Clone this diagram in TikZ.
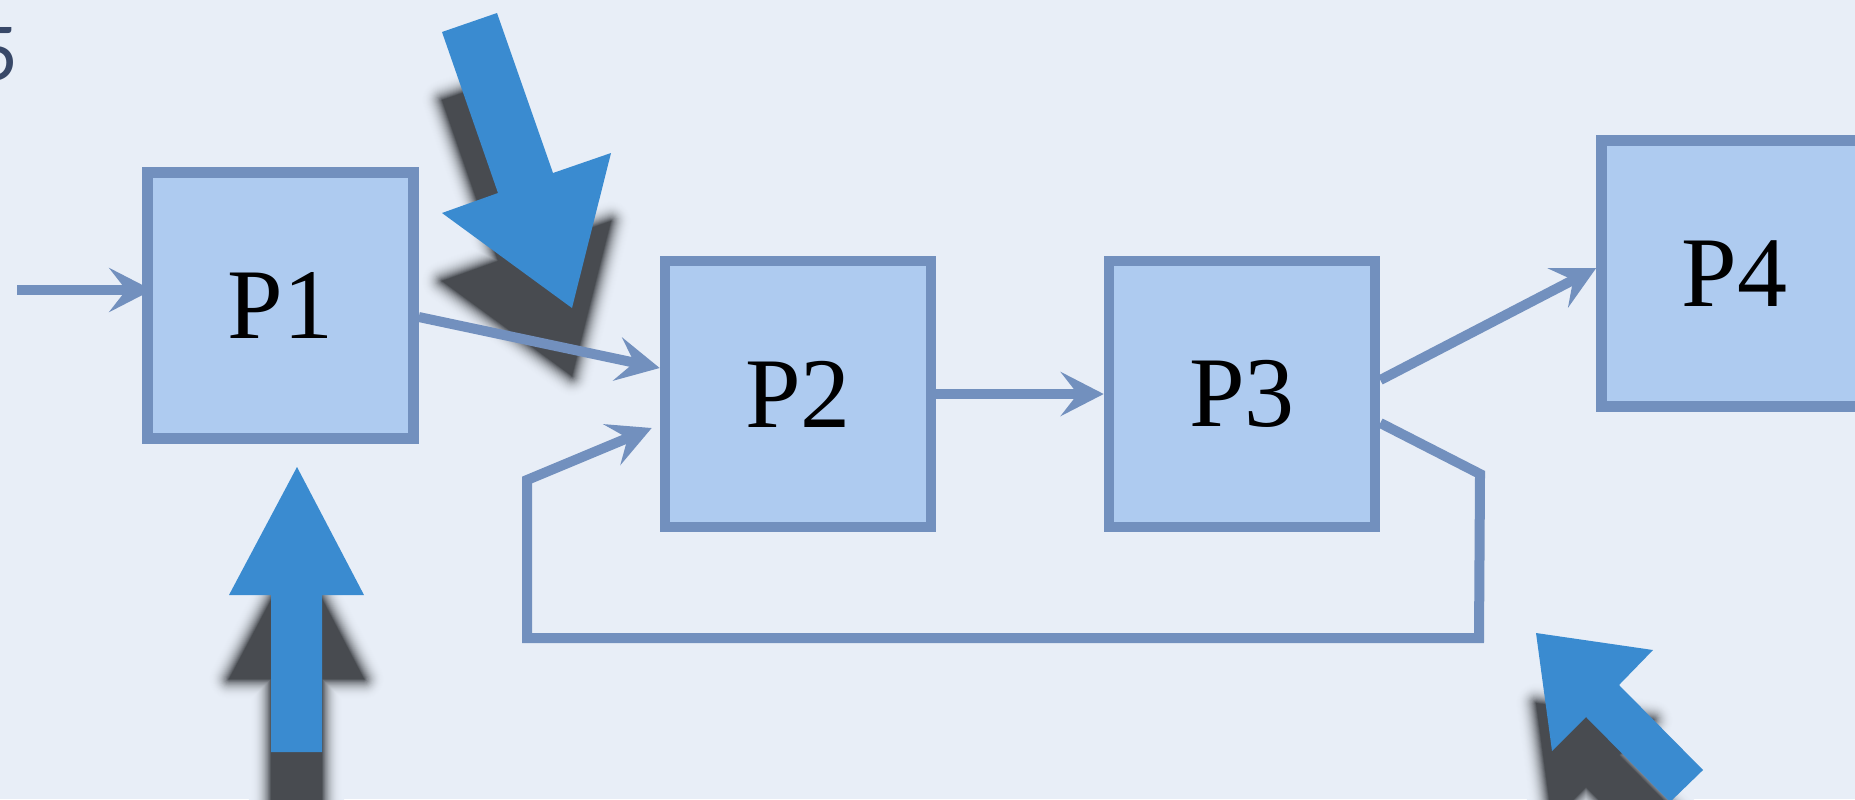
\documentclass[tikz,border=0pt]{standalone}
\usepackage{fontspec}
\setmainfont{Liberation Serif}
\newfontfamily\markfont{Lato}
\usetikzlibrary{arrows.meta,calc}

\definecolor{paper}{RGB}{232,238,247}
\definecolor{boxfill}{RGB}{174,203,240}
\definecolor{boxline}{RGB}{114,144,190}
\definecolor{bigarrow}{RGB}{58,139,208}
\definecolor{ink}{RGB}{56,72,104}
\definecolor{shadowcore}{RGB}{72,75,80}

% soft drop shadow: opaque contour layers fading from the shape into the paper
% #1 = downward offset, #2 = closed polygon
\newcommand\softshadow[2]{%
  \foreach \k in {0,...,24}{%
    \pgfmathsetmacro\s{\k/24}%
    \pgfmathsetmacro\t{100*\s^2.5}%
    \pgfmathsetmacro\w{22*(1-\s)+0.01}%
    \colorlet{shadetone}{shadowcore!\t!paper}%
    \filldraw[shadetone, line width=\w pt, line join=round, yshift=-#1] #2;%
  }}

\begin{document}
\begin{tikzpicture}[x=0.5pt,y=-0.5pt,
  proc/.style={draw=boxline, fill=boxfill, line width=5.3pt,
    minimum width=133pt, minimum height=133pt, inner sep=0pt,
    font=\fontsize{50}{60}\selectfont, text=black},
  flow/.style={draw=boxline, line width=5pt,
    -{Stealth[length=21.5pt,width=22pt,inset=8.5pt]}},
  block/.style={fill=bigarrow},
]
\useasboundingbox (0,0) rectangle (1855,799);
\fill[paper] (0,0) rectangle (1855,799);

% partly visible heading glyph at the left edge
\node[anchor=east, inner sep=0pt, text=ink,
  font=\markfont\fontsize{37}{40}\selectfont] (mark) at (19,54) {5};

% large pointer arrows with soft drop shadows
\softshadow{34pt}{(442,32) -- (497,13) -- (553,173) -- (611,153)
  -- (572,308) -- (442,213) -- (498,193) -- cycle}
\fill[block] (442,32) -- (497,13) -- (553,173) -- (611,153)
  -- (572,308) -- (442,213) -- (498,193) -- cycle;

\softshadow{42pt}{(297,467) -- (364,595) -- (322,595) -- (322,752)
  -- (271,752) -- (271,595) -- (229,595) -- cycle}
\fill[block] (297,467) -- (364,595) -- (322,595) -- (322,752)
  -- (271,752) -- (271,595) -- (229,595) -- cycle;

\softshadow{35pt}{(1536,633) -- (1653,650) -- (1619,685) -- (1703,770)
  -- (1670,802) -- (1586,717) -- (1552,751) -- cycle}
\fill[block] (1536,633) -- (1653,650) -- (1619,685) -- (1703,770)
  -- (1670,802) -- (1586,717) -- (1552,751) -- cycle;

% process boxes
\node[proc] (P1) at (280.5,305.5) {P1};
\node[proc] (P2) at (798,394) {P2};
\node[proc] (P3) at (1242,394) {P3};
\node[proc] (P4) at (1734.5,273.5) {P4};

% connectors
\coordinate (in) at (17,290);
\draw[flow, shorten >=-5pt] (in) -- (in -| P1.west);
\draw[flow] ($(P1.east)+(0,11.5)$) -- ($(P2.west)+(0,-26)$);
\draw[flow] (P2.east) -- (P3.west);
\draw[flow] ($(P3.east)+(0,-14)$) -- ($(P4.west)+(0,-5.5)$);

% feedback loop from P3 back to P2
\coordinate (r1) at (1480,474);
\coordinate (r2) at (1479,638);
\coordinate (l1) at (527,638);
\coordinate (l2) at (527,480);
\draw[flow] ($(P3.east)+(0,29)$) -- (r1) -- (r2) -- (l1) -- (l2)
  -- ($(P2.west)+(-8,34)$);
\end{tikzpicture}
\end{document}
